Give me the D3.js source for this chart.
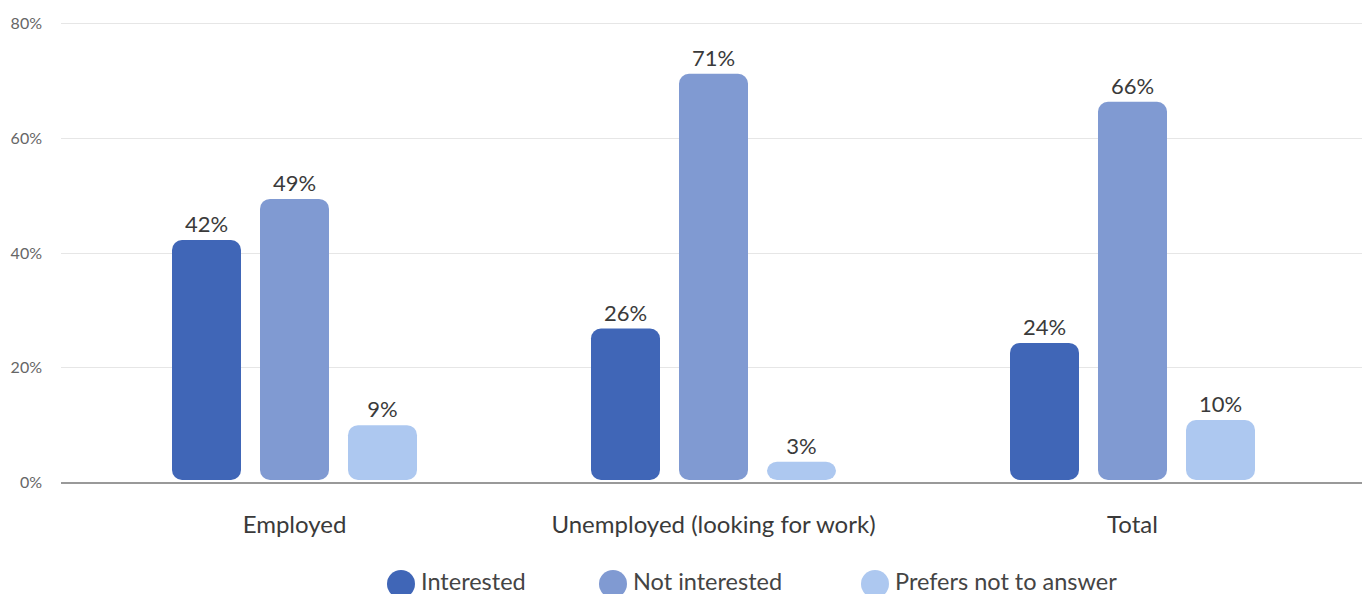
<!DOCTYPE html>
<html><head><meta charset="utf-8">
<script src="https://cdn.jsdelivr.net/npm/d3@7"></script>
<style>
html,body{margin:0;padding:0;background:#fff;overflow:hidden;}
text{font-family:Lato,"Open Sans",sans-serif;}
</style></head>
<body>
<svg id="c" width="1362" height="594"></svg>
<script>
const categories = ["Employed", "Unemployed (looking for work)", "Total"];
const seriesNames = ["Interested", "Not interested", "Prefers not to answer"];
const interested = [42.0, 26.5, 24.0];
const notInterested = [49.2, 71.1, 66.2];
const prefersNot = [9.6, 3.2, 10.5];
const yTicks = [0, 20, 40, 60, 80];
const colors = ["#4066b7", "#809ad2", "#adc8f0"];

const values = [interested, notInterested, prefersNot];
const svg = d3.select("#c");
const y = d3.scaleLinear().domain([0, 80]).range([482, 23]);
const yBar = y.copy().range([480, 23]);
const x0 = d3.scaleBand().domain(categories).range([85, 1342]).padding(0);
const pi = 19/88;
const po = (x0.bandwidth()/88 - 3 + pi)/2;
const x1 = d3.scaleBand().domain(seriesNames).range([0, x0.bandwidth()]).paddingInner(pi).paddingOuter(po);
const fmt = v => Math.floor(v) + "%";

// y axis labels + grid
const yAxis = d3.axisLeft(y).tickValues(yTicks).tickFormat(d => d + "%").tickSize(0).tickPadding(0);
const g = svg.append("g").attr("transform", "translate(42,0)").call(yAxis);
g.select(".domain").remove();
g.selectAll("text").attr("font-size", 16).attr("fill", "#666").attr("dy", "0.35em").attr("x", 0);
svg.append("g").selectAll("line").data(yTicks.filter(t => t > 0)).join("line")
  .attr("x1", 61).attr("x2", 1362).attr("y1", d => Math.round(y(d)) + 0.5).attr("y2", d => Math.round(y(d)) + 0.5)
  .attr("stroke", "#e6e6e6").attr("stroke-width", 1);

// bars
const groups = svg.append("g").selectAll("g").data(categories).join("g")
  .attr("transform", d => `translate(${x0(d)},0)`);
const rows = (c, i) => seriesNames.map((s, j) => ({s, v: values[j][i], j}));
groups.selectAll("rect").data(rows).join("rect")
  .attr("x", d => x1(d.s)).attr("width", x1.bandwidth())
  .attr("y", d => yBar(d.v)).attr("height", d => yBar(0) - yBar(d.v))
  .attr("rx", 10).attr("ry", 10)
  .attr("fill", d => colors[d.j]);
groups.selectAll("text.v").data(rows).join("text").attr("class", "v")
  .attr("x", d => x1(d.s) + x1.bandwidth()/2).attr("y", d => yBar(d.v) - 8)
  .attr("text-anchor", "middle").attr("font-size", 22).attr("fill", "#3a3a3a")
  .text(d => fmt(d.v));

// x axis
svg.append("line").attr("x1", 61).attr("x2", 1362).attr("y1", 483).attr("y2", 483)
  .attr("stroke", "#999").attr("stroke-width", 2);
const xAxis = d3.axisBottom(x0).tickSize(0).tickPadding(0);
const xa = svg.append("g").call(xAxis);
xa.select(".domain").remove();
xa.selectAll("text").attr("y", 533).attr("dy", 0).attr("font-size", 24).attr("fill", "#3a3a3a");

// legend
const legX = [401, 613, 875];
const leg = svg.append("g").selectAll("g").data(seriesNames).join("g");
leg.append("circle").attr("cx", (d, i) => legX[i]).attr("cy", 584).attr("r", 14)
  .attr("fill", (d, i) => colors[i]);
leg.append("text").attr("x", (d, i) => legX[i] + 20).attr("y", 590)
  .attr("font-size", 23.5).attr("fill", "#444").text(d => d);
</script>
</body></html>
